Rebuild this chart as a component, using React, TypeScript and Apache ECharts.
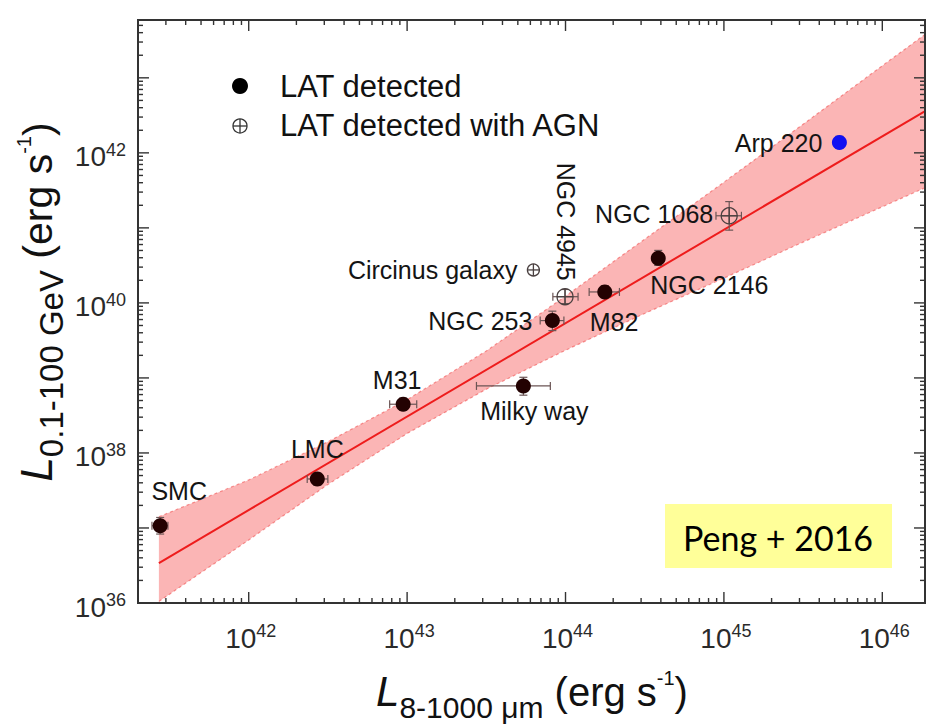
import React, { useEffect, useRef } from "react";
import * as echarts from "echarts";

// ---------- axis ranges ----------
const X_MIN = 2e41;
const X_MAX = 1.86e46;
const Y_MIN = 1e36;
const Y_MAX = 5.9e43;

const xDecades = [1e41, 1e42, 1e43, 1e44, 1e45, 1e46];
const xLabelExponents = [42, 43, 44, 45, 46];
const yDecades = [1e35, 1e36, 1e37, 1e38, 1e39, 1e40, 1e41, 1e42, 1e43];
const yLabelExponents = [36, 38, 40, 42];
const minorMultipliers = [2, 3, 4, 5, 6, 7, 8, 9];

// ---------- LAT detected (star-forming) ----------
const detNames = ["SMC", "LMC", "M31", "Milky way", "NGC 253", "M82", "NGC 2146"];
const detLIR = [2.76e41, 2.71e42, 9.44e42, 5.42e43, 8.26e43, 1.77e44, 3.85e44];
const detLIRLo = [2.45e41, 2.34e42, 7.76e42, 2.74e43, 6.92e43, 1.41e44, 3.85e44];
const detLIRHi = [3.09e41, 3.16e42, 1.15e43, 8.02e43, 9.77e43, 2.19e44, 3.85e44];
const detLgam = [1.07e37, 4.5e37, 4.46e38, 7.82e38, 5.81e39, 1.4e40, 3.94e40];
const detLgamLo = [8.3e36, 3.72e37, 3.72e38, 5.89e38, 4.27e39, 1.17e40, 3.16e40];
const detLgamHi = [1.38e37, 5.37e37, 5.37e38, 1.02e39, 7.76e39, 1.7e40, 5.01e40];

// ---------- LAT detected with AGN ----------
const agnNames = ["NGC 4945", "NGC 1068", "Circinus galaxy"];
const agnLIR = [9.93e43, 1.08e45, 6.27e43];
const agnLIRLo = [8.32e43, 8.91e44, 6.27e43];
const agnLIRHi = [1.2e44, 1.29e45, 6.27e43];
const agnLgam = [1.21e40, 1.45e41, 2.75e40];
const agnLgamLo = [9.77e39, 9.33e40, 2.75e40];
const agnLgamHi = [1.51e40, 2.24e41, 2.75e40];

// ---------- Arp 220 ----------
const arpNames = ["Arp 220"];
const arpLIR = [5.36e45];
const arpLgam = [1.37e42];
const arpLgamLo = [1.15e42];
const arpLgamHi = [1.66e42];

// ---------- best fit and band ----------
const fitLIR = [2.71e41, 1.84e46];
const fitLgam = [3.41e36, 3.55e42];
const bandLIR = [2.71e41, 1e42, 3.16e42, 1e43, 3.16e43, 1e44, 3.16e44, 1e45, 3.16e45, 1e46, 1.84e46];
const bandUpper = [1.41e37, 4.37e37, 1.41e38, 5.13e38, 2.29e39, 1.23e40, 7.08e40, 4.07e41, 2.4e42, 1.45e43, 3.72e43];
const bandLower = [1.05e36, 6.92e36, 3.8e37, 1.82e38, 7.08e38, 2.34e39, 7.24e39, 2.14e40, 6.46e40, 1.91e41, 3.39e41];

// ---------- label placement (pixel offsets from the point) ----------
const detLabelPos = [
  { dx: 19, dy: -35, align: "center", rot: 0 },
  { dx: 0, dy: -30, align: "center", rot: 0 },
  { dx: -6, dy: -24, align: "center", rot: 0 },
  { dx: 11, dy: 25, align: "center", rot: 0 },
  { dx: -20, dy: 0, align: "right", rot: 0 },
  { dx: -15, dy: 30, align: "left", rot: 0 },
  { dx: -8, dy: 27, align: "left", rot: 0 },
];
const agnLabelPos = [
  { dx: 1, dy: -75, align: "center", rot: -Math.PI / 2 },
  { dx: -16, dy: -2, align: "right", rot: 0 },
  { dx: -16, dy: 0, align: "right", rot: 0 },
];
const arpLabelPos = [{ dx: -17, dy: 0, align: "right", rot: 0 }];
const agnRadius = [8, 8, 6];

const FONT = '"Liberation Sans", Arial, Helvetica, sans-serif';

function errorBars(api: any, x: number, y: number, xlo: number, xhi: number, ylo: number, yhi: number) {
  const out: any[] = [];
  const st = { stroke: "#6b5555", lineWidth: 1.2, fill: null };
  const cap = 4;
  const pl = api.coord([xlo, y]);
  const pr = api.coord([xhi, y]);
  if (pr[0] - pl[0] > 2) {
    out.push({ type: "line", shape: { x1: pl[0], y1: pl[1], x2: pr[0], y2: pr[1] }, style: st });
    out.push({ type: "line", shape: { x1: pl[0], y1: pl[1] - cap, x2: pl[0], y2: pl[1] + cap }, style: st });
    out.push({ type: "line", shape: { x1: pr[0], y1: pr[1] - cap, x2: pr[0], y2: pr[1] + cap }, style: st });
  }
  const pb = api.coord([x, ylo]);
  const pt = api.coord([x, yhi]);
  if (pb[1] - pt[1] > 2) {
    out.push({ type: "line", shape: { x1: pb[0], y1: pb[1], x2: pt[0], y2: pt[1] }, style: st });
    out.push({ type: "line", shape: { x1: pb[0] - cap, y1: pb[1], x2: pb[0] + cap, y2: pb[1] }, style: st });
    out.push({ type: "line", shape: { x1: pt[0] - cap, y1: pt[1], x2: pt[0] + cap, y2: pt[1] }, style: st });
  }
  return out;
}

function supRich(base: number, sup: number, color: string) {
  return {
    b: { fontSize: base, fontFamily: FONT, fill: color, lineHeight: 30, verticalAlign: "bottom" },
    s: { fontSize: sup, fontFamily: FONT, fill: color, lineHeight: 18, verticalAlign: "top" },
  };
}

export default function App() {
  const ref = useRef<HTMLDivElement>(null);
  useEffect(() => {
    if (!ref.current) return;
    const chart = echarts.init(ref.current, null, { renderer: "svg" });

    const detData = detLIR.map((x, i) => [x, detLgam[i], detLIRLo[i], detLIRHi[i], detLgamLo[i], detLgamHi[i]]);
    const agnData = agnLIR.map((x, i) => [x, agnLgam[i], agnLIRLo[i], agnLIRHi[i], agnLgamLo[i], agnLgamHi[i]]);
    const arpData = arpLIR.map((x, i) => [x, arpLgam[i], x, x, arpLgamLo[i], arpLgamHi[i]]);

    const labelItems: any[] = [];
    detNames.forEach((n, i) => labelItems.push({ value: [detLIR[i], detLgam[i]], name: n, pos: detLabelPos[i] }));
    agnNames.forEach((n, i) => labelItems.push({ value: [agnLIR[i], agnLgam[i]], name: n, pos: agnLabelPos[i] }));
    arpNames.forEach((n, i) => labelItems.push({ value: [arpLIR[i], arpLgam[i]], name: n, pos: arpLabelPos[i] }));

    const option: any = {
      animation: false,
      backgroundColor: "#ffffff",
      grid: {
        left: 138,
        top: 20,
        right: 5,
        bottom: 122,
        show: true,
        borderColor: "#333",
        borderWidth: 2,
        backgroundColor: "transparent",
        z: 10,
      },
      xAxis: {
        type: "log",
        logBase: 10,
        min: X_MIN,
        max: X_MAX,
        axisLine: { show: false },
        axisTick: { show: false },
        axisLabel: { show: false },
        splitLine: { show: false },
      },
      yAxis: {
        type: "log",
        logBase: 10,
        min: Y_MIN,
        max: Y_MAX,
        axisLine: { show: false },
        axisTick: { show: false },
        axisLabel: { show: false },
        splitLine: { show: false },
      },
      series: [
        {
          type: "custom",
          name: "band",
          z: 1,
          clip: true,
          data: [[bandLIR[0], bandUpper[0]]],
          renderItem: (_p: any, api: any) => {
            const up = bandLIR.map((x, i) => api.coord([x, bandUpper[i]]));
            const lo = bandLIR.map((x, i) => api.coord([x, bandLower[i]]));
            const poly = up.concat(lo.slice().reverse());
            return {
              type: "group",
              children: [
                { type: "polygon", shape: { points: poly }, style: { fill: "rgba(246, 92, 92, 0.45)", stroke: null } },
                { type: "polyline", shape: { points: up }, style: { stroke: "rgba(240,70,70,0.55)", lineWidth: 1.2, lineDash: [3, 3], fill: null } },
                { type: "polyline", shape: { points: lo }, style: { stroke: "rgba(240,70,70,0.55)", lineWidth: 1.2, lineDash: [3, 3], fill: null } },
              ],
            };
          },
        },
        {
          type: "line",
          name: "fit",
          z: 3,
          data: fitLIR.map((x, i) => [x, fitLgam[i]]),
          showSymbol: false,
          symbol: "none",
          lineStyle: { color: "#ee1c1c", width: 2 },
        },
        {
          type: "custom",
          name: "LAT detected",
          z: 4,
          data: detData,
          renderItem: (_p: any, api: any) => {
            const x = api.value(0), y = api.value(1);
            const c = api.coord([x, y]);
            const children = errorBars(api, x, y, api.value(2), api.value(3), api.value(4), api.value(5));
            children.push({ type: "circle", shape: { cx: c[0], cy: c[1], r: 7.5 }, style: { fill: "#230202" } });
            return { type: "group", children };
          },
        },
        {
          type: "custom",
          name: "LAT detected with AGN",
          z: 4,
          data: agnData,
          renderItem: (p: any, api: any) => {
            const x = api.value(0), y = api.value(1);
            const c = api.coord([x, y]);
            const r = agnRadius[p.dataIndex];
            const children = errorBars(api, x, y, api.value(2), api.value(3), api.value(4), api.value(5));
            const st = { stroke: "#4a4040", lineWidth: 1.3, fill: null };
            children.push({ type: "circle", shape: { cx: c[0], cy: c[1], r }, style: { stroke: "#4a4040", lineWidth: 1.3, fill: "rgba(0,0,0,0)" } });
            children.push({ type: "line", shape: { x1: c[0] - r, y1: c[1], x2: c[0] + r, y2: c[1] }, style: st });
            children.push({ type: "line", shape: { x1: c[0], y1: c[1] - r, x2: c[0], y2: c[1] + r }, style: st });
            return { type: "group", children };
          },
        },
        {
          type: "custom",
          name: "Arp 220",
          z: 4,
          data: arpData,
          renderItem: (_p: any, api: any) => {
            const x = api.value(0), y = api.value(1);
            const c = api.coord([x, y]);
            const children = errorBars(api, x, y, api.value(2), api.value(3), api.value(4), api.value(5));
            children.push({ type: "circle", shape: { cx: c[0], cy: c[1], r: 7.5 }, style: { fill: "#1010f2" } });
            return { type: "group", children };
          },
        },
        {
          type: "custom",
          name: "labels",
          z: 6,
          clip: false,
          data: labelItems.map((d) => ({ value: d.value, name: d.name })),
          renderItem: (p: any, api: any) => {
            const item = labelItems[p.dataIndex];
            const c = api.coord(item.value);
            return {
              type: "text",
              x: c[0] + item.pos.dx,
              y: c[1] + item.pos.dy,
              rotation: item.pos.rot,
              style: {
                text: item.name,
                fill: "#141414",
                font: `25px ${FONT}`,
                align: item.pos.align,
                verticalAlign: "middle",
              },
            };
          },
        },
        {
          type: "custom",
          name: "ticks",
          z: 8,
          clip: false,
          data: [[1e43, 1e40]],
          renderItem: (_p: any, api: any) => {
            const p0 = api.coord([X_MIN, Y_MIN]);
            const p1 = api.coord([X_MAX, Y_MAX]);
            const left = p0[0], bottom = p0[1], right = p1[0], top = p1[1];
            const children: any[] = [];
            const st = { stroke: "#333", lineWidth: 1.4, fill: null };
            const addX = (v: number, len: number) => {
              if (v < X_MIN * 1.001 || v > X_MAX) return;
              const px = api.coord([v, Y_MIN])[0];
              children.push({ type: "line", shape: { x1: px, y1: bottom, x2: px, y2: bottom - len }, style: st });
              children.push({ type: "line", shape: { x1: px, y1: top, x2: px, y2: top + len }, style: st });
            };
            const addY = (v: number, len: number) => {
              if (v <= Y_MIN * 1.001 || v > Y_MAX) return;
              const py = api.coord([X_MIN, v])[1];
              children.push({ type: "line", shape: { x1: left, y1: py, x2: left + len, y2: py }, style: st });
              children.push({ type: "line", shape: { x1: right, y1: py, x2: right - len, y2: py }, style: st });
            };
            xDecades.forEach((d) => {
              addX(d, 11);
              minorMultipliers.forEach((m) => addX(m * d, 5));
            });
            yDecades.forEach((d) => {
              addY(d, 11);
              minorMultipliers.forEach((m) => addY(m * d, 5));
            });
            xLabelExponents.forEach((e) => {
              const px = api.coord([Math.pow(10, e), Y_MIN])[0];
              children.push({
                type: "text",
                x: px + 2,
                y: bottom + 34,
                style: { text: `{b|10}{s|${e}}`, rich: supRich(28, 18, "#2a2a2a"), align: "center", verticalAlign: "middle" },
              });
            });
            yLabelExponents.forEach((e) => {
              const py = api.coord([X_MIN, Math.pow(10, e)])[1];
              children.push({
                type: "text",
                x: left - 12,
                y: py + 3,
                style: { text: `{b|10}{s|${e}}`, rich: supRich(28, 18, "#2a2a2a"), align: "right", verticalAlign: "middle" },
              });
            });
            return { type: "group", children };
          },
        },
      ],
      graphic: [
        // legend
        { type: "circle", shape: { cx: 240, cy: 86, r: 8 }, style: { fill: "#000" }, z: 20 },
        { type: "text", x: 280, y: 86, style: { text: "LAT detected", font: `31px ${FONT}`, fill: "#111", align: "left", verticalAlign: "middle" }, z: 20 },
        { type: "circle", shape: { cx: 240, cy: 126, r: 7 }, style: { stroke: "#333", lineWidth: 1.3, fill: "rgba(0,0,0,0)" }, z: 20 },
        { type: "line", shape: { x1: 233, y1: 126, x2: 247, y2: 126 }, style: { stroke: "#333", lineWidth: 1.3 }, z: 20 },
        { type: "line", shape: { x1: 240, y1: 119, x2: 240, y2: 133 }, style: { stroke: "#333", lineWidth: 1.3 }, z: 20 },
        { type: "text", x: 280, y: 125, style: { text: "LAT detected with AGN", font: `31px ${FONT}`, fill: "#111", align: "left", verticalAlign: "middle" }, z: 20 },
        // citation box
        { type: "rect", shape: { x: 665, y: 504, width: 227, height: 64 }, style: { fill: "#ffff99" }, z: 20 },
        { type: "text", x: 778, y: 537, style: { text: "Peng + 2016", font: `34px Lato, "Open Sans", sans-serif`, fill: "#000", align: "center", verticalAlign: "middle" }, z: 21 },
        // axis titles
        {
          type: "text",
          x: 532,
          y: 690,
          z: 20,
          style: {
            text: "{L|L}{sub|8-1000 μm}{m| (erg s}{sup|-1}{m|)}",
            align: "center",
            verticalAlign: "middle",
            rich: {
              L: { fontSize: 42, fontStyle: "italic", fontFamily: FONT, fill: "#111", lineHeight: 44, verticalAlign: "bottom" },
              sub: { fontSize: 30, fontFamily: FONT, fill: "#111", lineHeight: 30, verticalAlign: "bottom", padding: [0, 0, -10, 0] },
              m: { fontSize: 40, fontFamily: FONT, fill: "#111", lineHeight: 44, verticalAlign: "bottom" },
              sup: { fontSize: 20, fontFamily: FONT, fill: "#111", lineHeight: 22, verticalAlign: "top" },
            },
          },
        },
        {
          type: "text",
          x: 36,
          y: 302,
          rotation: Math.PI / 2,
          z: 20,
          style: {
            text: "{L|L}{sub|0.1-100 GeV}{m| (erg s}{sup|-1}{m|)}",
            align: "center",
            verticalAlign: "middle",
            rich: {
              L: { fontSize: 44, fontStyle: "italic", fontFamily: FONT, fill: "#111", lineHeight: 44, verticalAlign: "bottom" },
              sub: { fontSize: 33, fontFamily: FONT, fill: "#111", lineHeight: 30, verticalAlign: "bottom", padding: [0, 0, -10, 0] },
              m: { fontSize: 41, fontFamily: FONT, fill: "#111", lineHeight: 44, verticalAlign: "bottom" },
              sup: { fontSize: 20, fontFamily: FONT, fill: "#111", lineHeight: 22, verticalAlign: "top" },
            },
          },
        },
      ],
    };
    chart.setOption(option);
    return () => chart.dispose();
  }, []);
  return <div ref={ref} style={{ position: "absolute", left: 0, top: 0, width: 930, height: 725 }} />;
}
